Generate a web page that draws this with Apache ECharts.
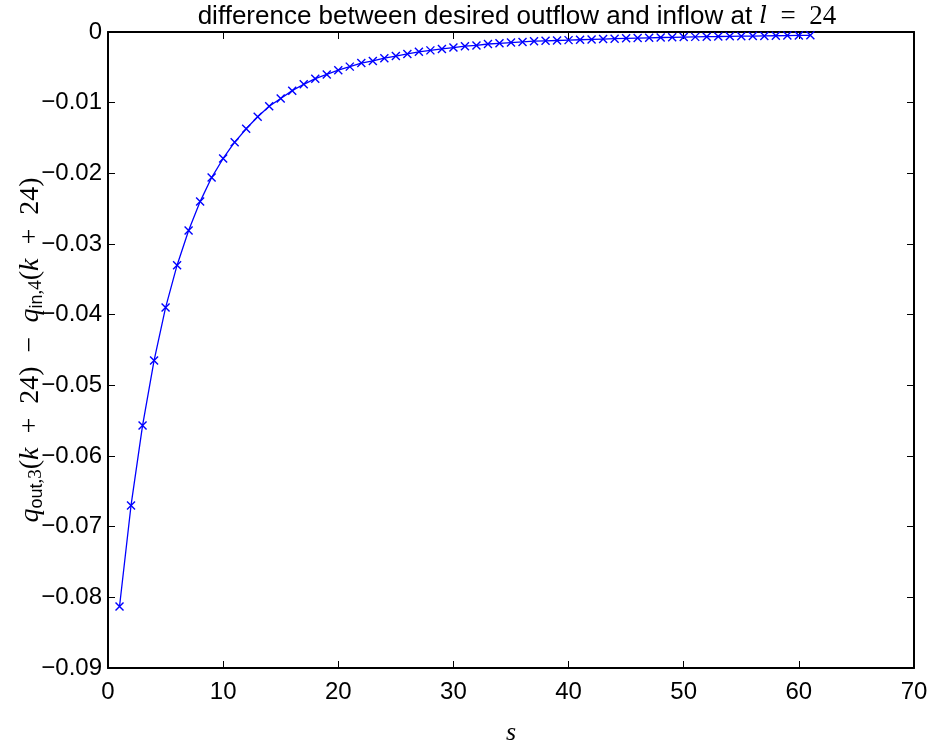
<!DOCTYPE html>
<html>
<head>
<meta charset="utf-8">
<script src="https://cdn.jsdelivr.net/npm/echarts@6/dist/echarts.min.js"></script>
<style>html,body{margin:0;padding:0;background:#fff}#c{width:946px;height:740px}</style>
</head>
<body>
<div id="c"></div>
<script>
const sValues = [1,2,3,4,5,6,7,8,9,10,11,12,13,14,15,16,17,18,19,20,21,22,23,24,25,26,27,28,29,30,31,32,33,34,35,36,37,38,39,40,41,42,43,44,45,46,47,48,49,50,51,52,53,54,55,56,57,58,59,60,61];
const diffValues = [-0.0813,-0.0670,-0.0557,-0.0465,-0.0390,-0.0330,-0.0281,-0.0240,-0.0206,-0.0179,
 -0.0156,-0.0137,-0.0120,-0.0105,-0.0094,-0.0083,-0.0074,-0.0066,-0.0060,-0.0054,
 -0.0049,-0.0044,-0.0041,-0.0037,-0.0034,-0.0031,-0.0028,-0.0026,-0.0024,-0.0022,
 -0.0020,-0.0019,-0.0017,-0.0016,-0.0015,-0.0014,-0.0013,-0.00125,-0.0012,-0.00115,
 -0.0011,-0.00105,-0.0010,-0.00095,-0.0009,-0.00086,-0.00082,-0.00078,-0.00075,-0.00072,
 -0.00069,-0.00066,-0.00064,-0.00061,-0.00059,-0.00057,-0.00055,-0.00053,-0.00051,-0.00049,-0.00047];
const xTicks = {min:0, max:70, interval:10};
const yTicks = {min:-0.09, max:0, interval:0.01};

const chart = echarts.init(document.getElementById('c'), null, {renderer:'canvas'});
const sans = '"Liberation Sans", Arial, Helvetica, sans-serif';
const serif = '"Liberation Serif", "DejaVu Serif", serif';
const data = sValues.map((s,i)=>[s, diffValues[i]]);
function axisLine(){ return {show:true, onZero:false, lineStyle:{color:'#000', width:2}}; }
function tick(){ return {show:true, inside:true, length:7, lineStyle:{color:'#000', width:1}}; }
const en = '\u2002';
chart.setOption({
  animation:false,
  backgroundColor:'#fff',
  title:{
    text:'{a|difference between desired outflow and inflow at }{i|l}{m|' + en + '=' + en + '24}',
    left:517, top:3, padding:0, textAlign:'center',
    textStyle:{fontFamily:sans, fontWeight:'normal', fontSize:26, color:'#000', rich:{
      a:{fontFamily:sans, fontWeight:'normal', fontSize:26, color:'#000'},
      i:{fontFamily:'"DejaVu Serif", serif', fontStyle:'italic', fontWeight:'normal', fontSize:24, color:'#000'},
      m:{fontFamily:serif, fontWeight:'normal', fontSize:27, color:'#000'}
    }}
  },
  grid:{left:108, right:32, top:32, bottom:72, containLabel:false, outerBoundsMode:'none'},
  xAxis:[{
    type:'value', min:xTicks.min, max:xTicks.max, interval:xTicks.interval,
    position:'bottom',
    axisLine:axisLine(), axisTick:tick(), splitLine:{show:false},
    axisLabel:{fontFamily:sans, fontSize:24, color:'#000', margin:12},
    name:'s', nameLocation:'middle', nameGap:52, nameMoveOverlap:false,
    nameTextStyle:{fontFamily:serif, fontStyle:'italic', fontSize:26, color:'#000'}
  },{
    type:'value', min:xTicks.min, max:xTicks.max, interval:xTicks.interval,
    position:'top',
    axisLine:axisLine(), axisTick:tick(), splitLine:{show:false}, axisLabel:{show:false}
  }],
  yAxis:[{
    type:'value', min:yTicks.min, max:yTicks.max, interval:yTicks.interval,
    position:'left',
    axisLine:axisLine(), axisTick:tick(), splitLine:{show:false},
    axisLabel:{fontFamily:sans, fontSize:24, color:'#000', margin:6,
      formatter:v=> Math.abs(v)<1e-9 ? '0' : '\u2212'+Math.abs(v).toFixed(2)},
    name:'{q|q}{s|out}{sc|,3}{t|(}{k|k}{t|'+en+'+'+en+'24)'+en+'\u2212'+en+'}{q|q}{s|in}{sc|,4}{t|(}{k|k}{t|'+en+'+'+en+'24)}',
    nameLocation:'middle', nameGap:62, nameRotate:90, nameMoveOverlap:false,
    nameTextStyle:{rich:{
      q:{fontFamily:serif, fontStyle:'italic', fontSize:28, color:'#000', lineHeight:30},
      k:{fontFamily:serif, fontStyle:'italic', fontSize:28, color:'#000', lineHeight:30},
      t:{fontFamily:serif, fontSize:28, color:'#000', lineHeight:30},
      s:{fontFamily:sans, fontSize:18, color:'#000', lineHeight:14, verticalAlign:'bottom'},
      sc:{fontFamily:serif, fontSize:19, color:'#000', lineHeight:14, verticalAlign:'bottom'}
    }}
  },{
    type:'value', min:yTicks.min, max:yTicks.max, interval:yTicks.interval,
    position:'right',
    axisLine:axisLine(), axisTick:tick(), splitLine:{show:false}, axisLabel:{show:false}
  }],
  series:[{
    type:'line', data:data, xAxisIndex:0, yAxisIndex:0,
    symbol:'path://M0,0L10,10M10,0L0,10', symbolSize:8,
    lineStyle:{color:'#0000ff', width:1.3},
    itemStyle:{color:'#0000ff', borderColor:'#0000ff', borderWidth:1.4},
    showSymbol:true
  }]
});
</script>
</body>
</html>
